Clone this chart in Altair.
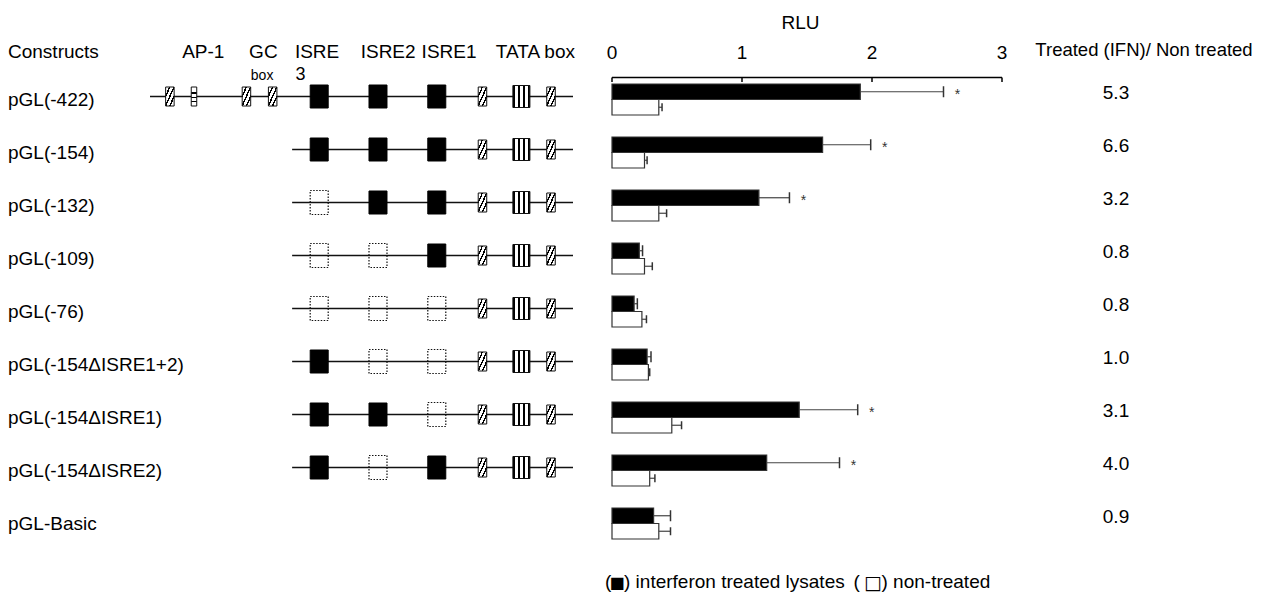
import altair as alt
import pandas as pd

FONT = "Liberation Sans"

# ---------------- data ----------------
constructs = ["pGL(-422)", "pGL(-154)", "pGL(-132)", "pGL(-109)", "pGL(-76)",
              "pGL(-154ΔISRE1+2)", "pGL(-154ΔISRE1)", "pGL(-154ΔISRE2)", "pGL-Basic"]
treated = [1.91, 1.62, 1.13, 0.21, 0.17, 0.27, 1.44, 1.19, 0.32]
treated_err = [0.64, 0.37, 0.235, 0.025, 0.025, 0.03, 0.45, 0.56, 0.13]
non_treated = [0.36, 0.25, 0.36, 0.25, 0.23, 0.28, 0.46, 0.29, 0.36]
non_treated_err = [0.025, 0.02, 0.06, 0.06, 0.035, 0.01, 0.075, 0.04, 0.09]
significant = [True, True, True, False, False, False, True, True, False]
ratio = ["5.3", "6.6", "3.2", "0.8", "0.8", "1.0", "3.1", "4.0", "0.9"]
rlu_ticks = [0, 1, 2, 3]

# promoter schematic (abstract schematic units 0-100)
element_pos = [4.7, 10.4, 22.8, 29.0, 40.0, 53.9, 67.8, 78.6, 87.8, 94.8]
element_kind = ["hatch", "hstripe", "hatch", "hatch", "isre", "isre", "isre",
                "hatch", "tata", "hatch"]
# 1 = present, D = deleted (dotted outline), 0 = absent
construct_elements = ["1111111111", "0000111111", "0000D11111", "0000DD1111",
                      "0000DDD111", "00001DD111", "000011D111", "00001D1111",
                      "0000000000"]
line_start = [0, 33.6, 33.6, 33.6, 33.6, 33.6, 33.6, 33.6]
line_end = [100] * 8

header_labels = ["AP-1", "GC", "ISRE", "ISRE2", "ISRE1", "TATA box"]
header_pos = [12.6, 26.8, 39.5, 56.3, 70.7, 91.1]
sub_labels = ["box", "3"]
sub_pos = [26.5, 35.6]
sub_sizes = [14, 18]

series_names = ["treated", "non"]

# ---------------- tables ----------------
bars_df = pd.DataFrame({
    "construct": constructs * 2,
    "series": ["treated"] * 9 + ["non"] * 9,
    "value": treated + non_treated,
    "end": [v + e for v, e in zip(treated, treated_err)] +
           [v + e for v, e in zip(non_treated, non_treated_err)],
    "sig": significant + [False] * 9,
})

el_rows = []
for c, states in zip(constructs, construct_elements):
    for s, p, k in zip(states, element_pos, element_kind):
        if s == "0":
            continue
        el_rows.append({"construct": c, "pos": p,
                        "kind": "deleted" if s == "D" else k})
el_df = pd.DataFrame(el_rows)

lines_df = pd.DataFrame({"construct": constructs[:8], "start": line_start, "end": line_end})
hdr_df = pd.DataFrame({"label": header_labels, "pos": header_pos})
sub_df = pd.DataFrame({"label": sub_labels, "pos": sub_pos, "fs": sub_sizes})
lab_df = pd.DataFrame({"construct": constructs, "ratio": ratio})
tick_df = pd.DataFrame({"t": rlu_ticks})
axis_df = pd.DataFrame({"a": [rlu_ticks[0]], "b": [rlu_ticks[-1]]})

# ---------------- scales ----------------
ys = alt.Scale(domain=constructs, range=[65, 542], paddingInner=0.415, paddingOuter=0.2075)
Y = alt.Y("construct:N", scale=ys, axis=None)
dxs = alt.Scale(domain=[0, 100], range=[142, 565])
rxs = alt.Scale(domain=[0, 3], range=[604, 994])
YO = alt.YOffset("series:N", scale=alt.Scale(domain=series_names))


def stops(pairs):
    return [alt.GradientStop(color=c, offset=o) for o, c in pairs]


hatch_fill = alt.LinearGradient(
    gradient="linear", x1=0, y1=0, x2=1, y2=1,
    stops=stops([(0, "white"), (0.2, "white"), (0.2, "black"), (0.29, "black"),
                 (0.29, "white"), (0.45, "white"), (0.45, "black"), (0.54, "black"),
                 (0.54, "white"), (0.7, "white"), (0.7, "black"), (0.79, "black"),
                 (0.79, "white"), (1, "white")]))
hstripe_fill = alt.LinearGradient(
    gradient="linear", x1=0, y1=0, x2=0, y2=1,
    stops=stops([(0, "white"), (0.28, "white"), (0.28, "black"), (0.35, "black"),
                 (0.35, "white"), (0.5, "white"), (0.5, "black"), (0.57, "black"),
                 (0.57, "white"), (0.72, "white"), (0.72, "black"), (0.79, "black"),
                 (0.79, "white"), (1, "white")]))
tata_fill = alt.LinearGradient(
    gradient="linear", x1=0, y1=0, x2=1, y2=0,
    stops=stops([(0, "black"), (0.12, "black"), (0.12, "white"), (0.3, "white"),
                 (0.3, "black"), (0.44, "black"), (0.44, "white"), (0.6, "white"),
                 (0.6, "black"), (0.74, "black"), (0.74, "white"), (0.88, "white"),
                 (0.88, "black"), (1, "black")]))

# ---------------- diagram ----------------
line = alt.Chart(lines_df).mark_rule(color="#111", strokeWidth=1.5, yOffset=-3).encode(
    x=alt.X("start:Q", scale=dxs, axis=None), x2="end:Q", y=Y)


def boxes(kind, **mk):
    return alt.Chart(el_df).transform_filter(alt.datum.kind == kind).mark_tick(
        opacity=1, yOffset=-3, **mk).encode(
        x=alt.X("pos:Q", scale=dxs, axis=None), y=Y)


b_hatch = boxes("hatch", fill=hatch_fill, stroke="#111", strokeWidth=1,
                thickness=8.5, size=19)
b_hstripe = boxes("hstripe", fill=hstripe_fill, stroke="#111", strokeWidth=1,
                  thickness=5.5, size=19)
b_isre = boxes("isre", fill="black", stroke="black", strokeWidth=1,
               thickness=18, size=23)
b_tata = boxes("tata", fill=tata_fill, stroke="#111", strokeWidth=1,
               thickness=17, size=22)
b_del = boxes("deleted", fill="white", fillOpacity=0, stroke="#111", strokeWidth=1.2,
              strokeDash=[1.5, 1.5], thickness=18, size=24)

hdr = alt.Chart(hdr_df).mark_text(fontSize=19, font=FONT, color="black", baseline="middle").encode(
    x=alt.X("pos:Q", scale=dxs, axis=None), y=alt.value(43.7), text="label:N")
sub = alt.Chart(sub_df).mark_text(font=FONT, color="black", baseline="alphabetic").encode(
    x=alt.X("pos:Q", scale=dxs, axis=None), y=alt.value(71.5), text="label:N",
    size=alt.Size("fs:Q", scale=None, legend=None))

diagram = alt.layer(line, b_hatch, b_hstripe, b_isre, b_tata, b_del, hdr, sub)

# ---------------- bar chart ----------------
bars = alt.Chart(bars_df).mark_bar(stroke="#333", strokeWidth=1.2).encode(
    x=alt.X("value:Q", scale=rxs, axis=None), y=Y, yOffset=YO,
    fill=alt.Fill("series:N", scale=alt.Scale(domain=series_names, range=["black", "white"]),
                  legend=None))
err = alt.Chart(bars_df).mark_rule(color="#444", strokeWidth=1.2).encode(
    x=alt.X("value:Q", scale=rxs, axis=None), x2="end:Q", y=Y, yOffset=YO)
caps = alt.Chart(bars_df).mark_tick(color="#333", thickness=1.5, opacity=1).encode(
    x=alt.X("end:Q", scale=rxs, axis=None), y=Y, yOffset=YO,
    size=alt.Size("series:N", scale=alt.Scale(domain=series_names, range=[11, 8]), legend=None))
stars = alt.Chart(bars_df).transform_filter(alt.datum.sig).mark_text(
    text="*", fontSize=14, font=FONT, color="#333", dx=14, dy=3, baseline="middle").encode(
    x=alt.X("end:Q", scale=rxs, axis=None), y=Y, yOffset=YO)

ax_line = alt.Chart(axis_df).mark_rule(color="black", strokeWidth=1.5).encode(
    x=alt.X("a:Q", scale=rxs, axis=None), x2="b:Q", y=alt.value(69.5))
ax_ticks = alt.Chart(tick_df).mark_rule(color="black", strokeWidth=1.5).encode(
    x=alt.X("t:Q", scale=rxs, axis=None), y=alt.value(69.5), y2=alt.value(74))
ax_labels = alt.Chart(tick_df).mark_text(fontSize=19, font=FONT, color="black", baseline="middle").encode(
    x=alt.X("t:Q", scale=rxs, axis=None), y=alt.value(45.3), text="t:Q")
ax_title = alt.Chart(tick_df).transform_filter(alt.datum.t == 0).mark_text(
    text="RLU", fontSize=19, font=FONT, color="black", baseline="middle").encode(
    x=alt.X(datum=1.45, scale=rxs, axis=None), y=alt.value(15))

barpanel = alt.layer(bars, err, caps, stars, ax_line, ax_ticks, ax_labels, ax_title)

# ---------------- texts ----------------
labels = alt.Chart(lab_df).mark_text(fontSize=19, font=FONT, color="black", align="left",
                                      baseline="middle").encode(
    x=alt.value(0), y=Y, text="construct:N")
ratios = alt.Chart(lab_df).mark_text(fontSize=19, font=FONT, color="black", align="center",
                                      baseline="middle", dy=-7).encode(
    x=alt.value(1108), y=Y, text="ratio:N")
one = lab_df.head(1)


def note(txt, x, y, align="left", font=FONT, size=19):
    return alt.Chart(one).mark_text(text=txt, fontSize=size, font=font, color="black",
                                    align=align, baseline="middle").encode(
        x=alt.value(x), y=alt.value(y))


h_constructs = note("Constructs", 0, 43.7)
h_ratio = note("Treated (IFN)/ Non treated", 1136, 42.3, align="center", size=18.5)
leg = [
    note("(", 597, 574),
    note("■", 609, 575, align="center", font="DejaVu Sans", size=16),
    note(") interferon treated lysates", 616, 574),
    note("(", 845.5, 574),
    note("□", 865, 575, align="center", font="DejaVu Sans", size=19),
    note(") non-treated", 873.5, 574),
]

chart = alt.layer(diagram, barpanel, labels, ratios, h_constructs, h_ratio, *leg).resolve_scale(
    x="independent"
).properties(
    width=1247, height=587, padding=0,
    autosize=alt.AutoSizeParams(type="none"),
).configure_view(stroke=None)

chart.save("out.html", embed_options={"renderer": "svg", "actions": False})
